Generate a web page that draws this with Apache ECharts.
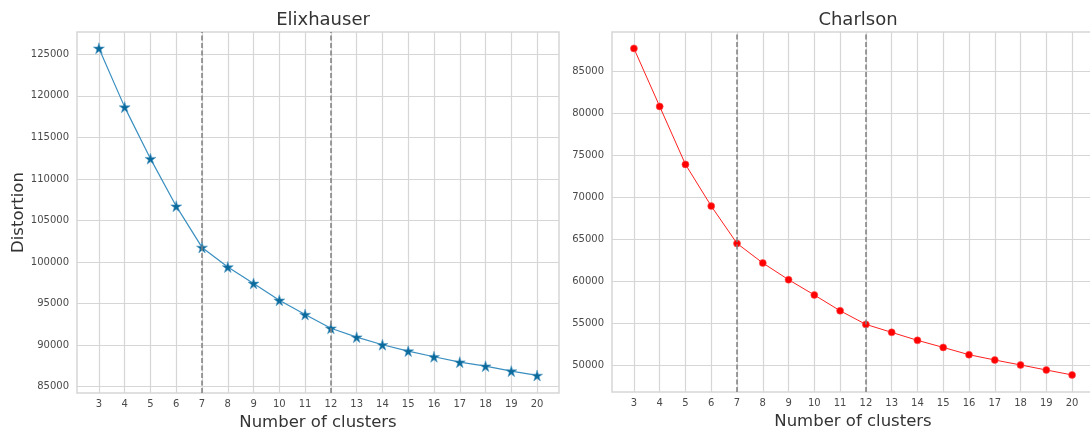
<!DOCTYPE html>
<html>
<head>
<meta charset="utf-8">
<script src="https://cdn.jsdelivr.net/npm/echarts@6/dist/echarts.min.js"></script>
<style>
  html, body { margin: 0; padding: 0; background: #fff; }
  #chart { width: 1090px; height: 430px; }
</style>
</head>
<body>
<div id="chart"></div>
<script>
// ---- data ----
const clusters = [3, 4, 5, 6, 7, 8, 9, 10, 11, 12, 13, 14, 15, 16, 17, 18, 19, 20];
const elixhauser = [125720, 118640, 112440, 106720, 101760, 99400, 97430, 95400, 93680, 92030, 90960, 90050, 89280, 88600, 87950, 87470, 86870, 86350];
const charlson = [87740, 80830, 73930, 68960, 64520, 62190, 60200, 58380, 56500, 54880, 53930, 52980, 52140, 51270, 50640, 50050, 49450, 48860];
const elbowLines = [7, 12];
const elixTicks = [85000, 90000, 95000, 100000, 105000, 110000, 115000, 120000, 125000];
const charlTicks = [50000, 55000, 60000, 65000, 70000, 75000, 80000, 85000];
const titles = ['Elixhauser', 'Charlson'];
const xName = 'Number of clusters';
const yName = 'Distortion';

const FONT = 'DejaVu Sans';
const gridColor = '#d6d6d6';
const labelColor = '#4a4a4a';
const starPath = 'path://M50,0 L61,35 L98,35 L68,57 L79,91 L50,70 L21,91 L32,57 L2,35 L39,35 Z';

function xAxisFor(gridIndex) {
  return {
    gridIndex: gridIndex,
    type: 'value',
    min: 2.15,
    max: 20.85,
    name: xName,
    nameLocation: 'middle',
    nameGap: 18,
    nameTextStyle: { fontFamily: FONT, fontSize: 16.5, color: '#333' },
    axisLine: { show: false },
    axisTick: { show: false, customValues: clusters },
    axisLabel: { customValues: clusters, fontFamily: FONT, fontSize: 10, color: labelColor, margin: 6,
                 formatter: v => String(v) },
    splitLine: { show: true, lineStyle: { color: gridColor, width: 1.2 } }
  };
}
function yAxisFor(gridIndex, min, max, ticks, withName) {
  return {
    gridIndex: gridIndex,
    type: 'value',
    min: min,
    max: max,
    name: withName ? yName : '',
    nameLocation: 'middle',
    nameGap: 50,
    nameTextStyle: { fontFamily: FONT, fontSize: 16.5, color: '#333' },
    axisLine: { show: false },
    axisTick: { show: false, customValues: ticks },
    axisLabel: { customValues: ticks, fontFamily: FONT, fontSize: 10, color: labelColor, margin: 8,
                 formatter: v => String(v) },
    splitLine: { show: true, lineStyle: { color: gridColor, width: 1.2 } }
  };
}
function vlines() {
  return {
    silent: true,
    symbol: 'none',
    label: { show: false },
    lineStyle: { color: '#808080', type: [5, 2.5], width: 1.5 },
    data: elbowLines.map(v => ({ xAxis: v }))
  };
}

const chart = echarts.init(document.getElementById('chart'), null, { renderer: 'canvas' });
chart.setOption({
  animation: false,
  backgroundColor: '#ffffff',
  title: [
    { text: titles[0], left: 318, top: 6, textAlign: 'center',
      textStyle: { fontFamily: FONT, fontSize: 18, fontWeight: 'normal', color: '#333' } },
    { text: titles[1], left: 853, top: 6, textAlign: 'center',
      textStyle: { fontFamily: FONT, fontSize: 18, fontWeight: 'normal', color: '#333' } }
  ],
  grid: [
    { left: 77, top: 32, width: 482, height: 361, outerBoundsMode: 'none', containLabel: false,
      show: true, borderColor: gridColor, borderWidth: 1.5, backgroundColor: 'transparent' },
    { left: 612, top: 32, width: 482, height: 360, outerBoundsMode: 'none', containLabel: false,
      show: true, borderColor: gridColor, borderWidth: 1.5, backgroundColor: 'transparent' }
  ],
  xAxis: [xAxisFor(0), xAxisFor(1)],
  yAxis: [
    yAxisFor(0, 84240, 127680, elixTicks, true),
    yAxisFor(1, 46830, 89690, charlTicks, false)
  ],
  series: [
    {
      type: 'line', xAxisIndex: 0, yAxisIndex: 0,
      data: clusters.map((c, i) => [c, elixhauser[i]]),
      lineStyle: { color: '#3a8fc0', width: 1.2 },
      symbol: starPath, symbolSize: 11, showSymbol: true,
      itemStyle: { color: '#0a6a9c', borderColor: '#5aa0c8', borderWidth: 0.6 },
      markLine: vlines(),
      z: 3
    },
    {
      type: 'line', xAxisIndex: 1, yAxisIndex: 1,
      data: clusters.map((c, i) => [c, charlson[i]]),
      lineStyle: { color: '#ff2020', width: 1 },
      symbol: 'circle', symbolSize: 7, showSymbol: true,
      itemStyle: { color: '#ff0000', borderColor: '#ff5050', borderWidth: 0.6 },
      markLine: vlines(),
      z: 3
    }
  ]
});
</script>
</body>
</html>
